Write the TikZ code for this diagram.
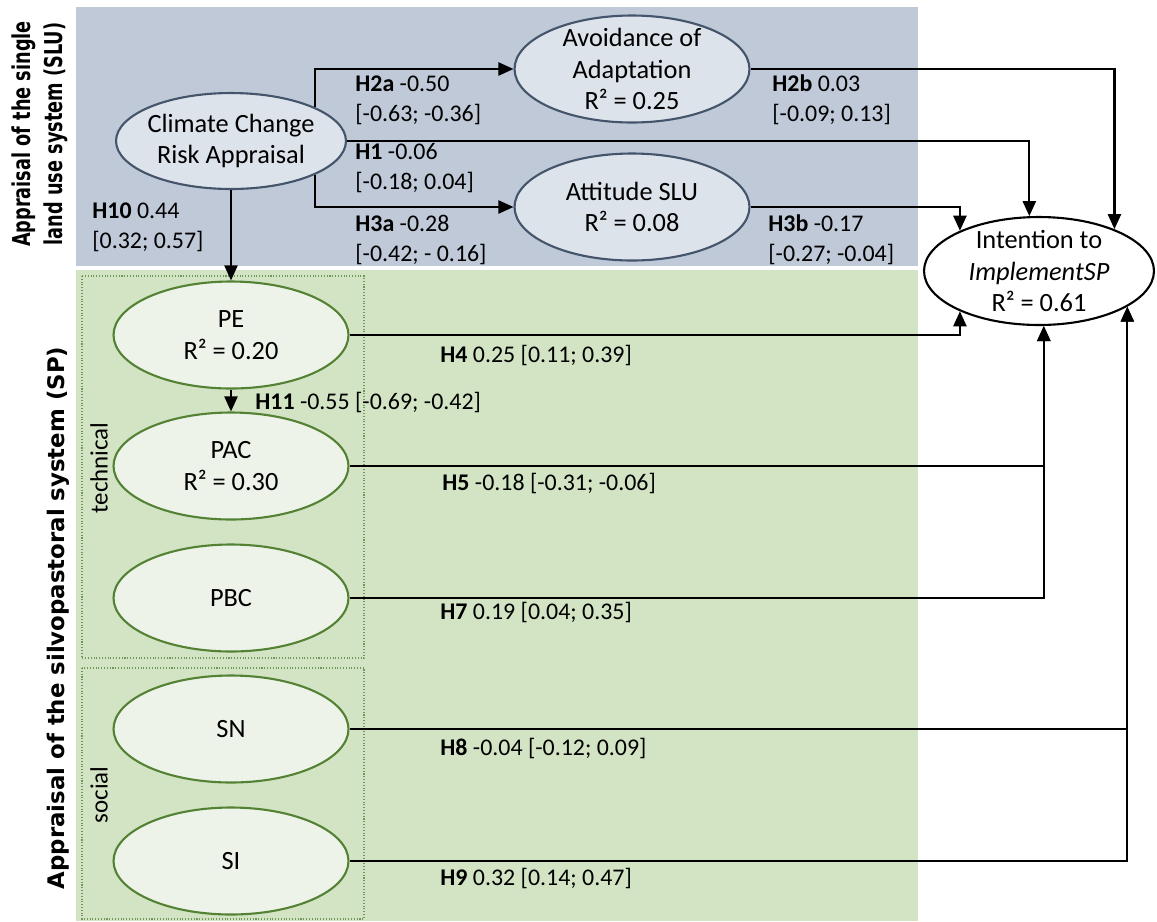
\documentclass[tikz,border=0pt]{standalone}
\usepackage{fontspec}
\usepackage{graphicx}
\setmainfont{Carlito}
\newfontfamily\sidefont{DejaVu Sans}
\usetikzlibrary{shapes.geometric,arrows.meta}
\definecolor{slubg}{RGB}{191,201,216}
\definecolor{slufill}{RGB}{221,227,235}
\definecolor{sluline}{RGB}{68,84,106}
\definecolor{spbg}{RGB}{211,228,196}
\definecolor{spfill}{RGB}{238,243,234}
\definecolor{spline}{RGB}{84,130,53}
\definecolor{dotline}{RGB}{112,150,90}
\newcommand{\narrow}[1]{\scalebox{0.72}[1]{#1}}
\begin{document}
\begin{tikzpicture}[x=0.02cm,y=-0.02cm,
    latent/.style={ellipse,line width=1.2pt,inner sep=-6pt,align=center,minimum width=4.7cm,minimum height=2.14cm,font=\fontsize{15}{18}\selectfont},
    slu/.style={latent,draw=sluline,fill=slufill},
    sp/.style={latent,draw=spline,fill=spfill},
    hyp/.style={line width=1.3pt,-{Triangle[length=0.3cm,width=0.26cm]}},
    coef/.style={anchor=west,align=left,inner sep=0pt,font=\fontsize{13.6}{17}\selectfont},
    group/.style={dotline,densely dotted,line width=0.6pt}]
    \useasboundingbox (0,0) rectangle (1157,921);
    \fill[slubg] (76,7) rectangle (918,266);
    \fill[spbg] (76,270) rectangle (918,921);
    \draw[group] (82,276) rectangle (364,658);
    \draw[group] (82,668) rectangle (364,919);
    \node[rotate=90,align=center,font=\sidefont\bfseries\fontsize{14}{18}\selectfont] (slu) at (40,134) {\narrow{Appraisal of the single}\\\narrow{land use system (SLU)}};
    \node[rotate=90,font=\sidefont\bfseries\fontsize{13}{15}\selectfont] (spl) at (58,618) {Appraisal of the silvopastoral system (SP)};
    \node[rotate=90,font=\fontsize{14.2}{16}\selectfont] (tech) at (99,468) {technical};
    \node[rotate=90,font=\fontsize{14.2}{16}\selectfont] (soc) at (99,795) {social};
    \node[slu,minimum width=4.6cm,minimum height=1.92cm] (ccra) at (231,141) {Climate Change\\Risk Appraisal};
    \node[slu] (aoa) at (632,69) {Avoidance of\\Adaptation\\R² = 0.25};
    \node[slu] (att) at (632,207) {Attitude SLU\\R² = 0.08};
    \node[latent,draw=black,fill=white,minimum width=4.6cm,minimum height=2.16cm] (int) at (1039,271) {Intention to\\\textit{ImplementSP}\\R² = 0.61};
    \foreach \n/\y/\t in {pe/335/{PE\\R² = 0.20},pac/466/{PAC\\R² = 0.30},pbc/598/PBC,sn/729/SN,si/861/SI}
      \node[sp] (\n) at (231,\y) {\t};
    \draw[hyp] (ccra.22) |- (aoa.west);
    \draw[hyp] (ccra.-22) |- (att.west);
    \draw[hyp] (ccra.east) -| (int.100);
    \draw[hyp] (ccra.south) -- (pe.north);
    \draw[hyp] (aoa.east) -| (int.29);
    \draw[hyp] (att.east) -| (int.153);
    \draw[hyp] (pe.south) -- (pac.north);
    \draw[hyp] (pe.east) -| (int.-153);
    \draw[hyp] (pac.east) -| (int.-85);
    \draw[hyp] (pbc.east) -| (int.-85);
    \draw[hyp] (sn.east) -| (int.-22);
    \draw[hyp] (si.east) -| (int.-22);
    \node[coef] (h2a) at (355,100) {\textbf{H2a} -0.50\\{[}-0.63; -0.36]};
    \node[coef] (h1) at (355,168) {\textbf{H1} -0.06\\{[}-0.18; 0.04]};
    \node[coef] (h3a) at (355,240) {\textbf{H3a} -0.28\\{[}-0.42; - 0.16]};
    \node[coef] (h10) at (92,227) {\textbf{H10} 0.44\\{[}0.32; 0.57]};
    \node[coef] (h2b) at (772,100) {\textbf{H2b} 0.03\\{[}-0.09; 0.13]};
    \node[coef] (h3b) at (768,240) {\textbf{H3b} -0.17\\{[}-0.27; -0.04]};
    \node[coef] (h4) at (440,355) {\textbf{H4} 0.25 [0.11; 0.39]};
    \node[coef] (h11) at (255,402) {\textbf{H11} -0.55 [-0.69; -0.42]};
    \node[coef] (h5) at (442,483) {\textbf{H5} -0.18 [-0.31; -0.06]};
    \node[coef] (h7) at (440,612) {\textbf{H7} 0.19 [0.04; 0.35]};
    \node[coef] (h8) at (440,748) {\textbf{H8} -0.04 [-0.12; 0.09]};
    \node[coef] (h9) at (440,878) {\textbf{H9} 0.32 [0.14; 0.47]};
\end{tikzpicture}
\end{document}
